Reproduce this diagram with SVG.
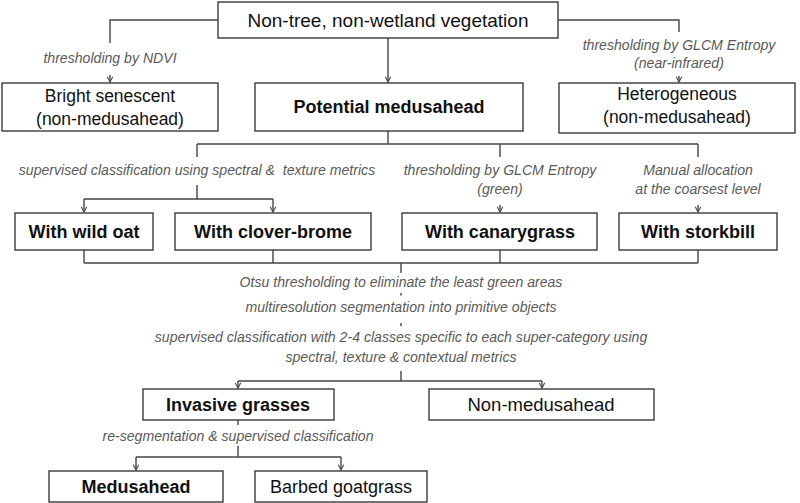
<svg xmlns="http://www.w3.org/2000/svg" width="800" height="503" viewBox="0 0 800 503">
<style>
.box{fill:#fff;stroke:#3a3a3a;stroke-width:1.4}
.t{font-family:"Liberation Sans",Arial,sans-serif;font-size:17.5px;fill:#111;text-anchor:middle}
.b{font-weight:bold;font-size:18px}
.lbl{font-family:"Liberation Sans",Arial,sans-serif;font-size:14.1px;font-style:italic;fill:#5a5a5a;text-anchor:middle;white-space:pre}
.c{fill:none;stroke:#454545;stroke-width:1.4}
.a{fill:none;stroke:#454545;stroke-width:1.4;marker-end:url(#ah)}
</style>
<defs>
<marker id="ah" viewBox="0 0 8 8" refX="7" refY="4" markerWidth="7" markerHeight="7" markerUnits="userSpaceOnUse" orient="auto">
<path d="M1,0.8 L7,4 L1,7.2" fill="none" stroke="#454545" stroke-width="1.2"/>
</marker>
</defs>
<rect width="800" height="503" fill="#fff"/>
<g id="connectors">
<path class="c" d="M218,20 H110 V43"/>
<path class="a" d="M110,75 V82"/>
<path class="a" d="M388,38 V82"/>
<path class="c" d="M558,20 H679 V32"/>
<path class="a" d="M679,76 V82"/>
<path class="c" d="M388,131 V144 M197,144 H698 M197,144 V157 M500,144 V157 M698,144 V157"/>
<path class="c" d="M197,185 V199 M84,199 H273"/>
<path class="a" d="M84,199 V212"/>
<path class="a" d="M273,199 V212"/>
<path class="a" d="M500,205 V212"/>
<path class="a" d="M698,205 V212"/>
<path class="c" d="M84,250 V263 M273,250 V263 M500,250 V263 M698,250 V263 M84,263 H698 M401,263 V273"/>
<path class="c" d="M401,293 V295.5 M401,323 V326"/>
<path class="c" d="M401,371 V381 M238,381 H542"/>
<path class="a" d="M238,381 V388"/>
<path class="a" d="M542,381 V388"/>
<path class="c" d="M238,420 V425 M238,446 V457 M136,457 H341"/>
<path class="a" d="M136,457 V470"/>
<path class="a" d="M341,457 V470"/>
</g>
<g id="labels">
<text class="lbl" x="110" y="63">thresholding by NDVI</text>
<text class="lbl" x="679" y="50">thresholding by GLCM Entropy</text>
<text class="lbl" x="679" y="68">(near-infrared)</text>
<text class="lbl" x="197" y="175">supervised classification using spectral &amp;  texture metrics</text>
<text class="lbl" x="500" y="175">thresholding by GLCM Entropy</text>
<text class="lbl" x="500" y="194">(green)</text>
<text class="lbl" x="698" y="175">Manual allocation</text>
<text class="lbl" x="698" y="194">at the coarsest level</text>
<text class="lbl" x="401" y="287">Otsu thresholding to eliminate the least green areas</text>
<text class="lbl" x="401" y="312">multiresolution segmentation into primitive objects</text>
<text class="lbl" x="401" y="342">supervised classification with 2-4 classes specific to each super-category using</text>
<text class="lbl" x="401" y="362">spectral, texture &amp; contextual metrics</text>
<text class="lbl" x="238" y="441">re-segmentation &amp; supervised classification</text>
</g>
<g id="n-root"><rect class="box" x="218" y="2" width="340" height="36"/><text class="t" x="388" y="27" style="font-size:19px">Non-tree, non-wetland vegetation</text></g>
<g id="n-bright"><rect class="box" x="2" y="83" width="216" height="48"/><text class="t" x="110" y="102">Bright senescent</text><text class="t" x="110" y="125">(non-medusahead)</text></g>
<g id="n-potential"><rect class="box" x="255" y="83" width="268" height="48"/><text class="t b" x="389" y="113">Potential medusahead</text></g>
<g id="n-hetero"><rect class="box" x="559" y="83" width="236" height="50"/><text class="t" x="677" y="100">Heterogeneous</text><text class="t" x="677" y="123">(non-medusahead)</text></g>
<g id="n-wildoat"><rect class="box" x="15" y="213" width="138" height="37"/><text class="t b" x="84" y="238">With wild oat</text></g>
<g id="n-clover"><rect class="box" x="175" y="213" width="196" height="37"/><text class="t b" x="273" y="238">With clover-brome</text></g>
<g id="n-canary"><rect class="box" x="402" y="213" width="195" height="37"/><text class="t b" x="500" y="238">With canarygrass</text></g>
<g id="n-stork"><rect class="box" x="619" y="213" width="158" height="37"/><text class="t b" x="698" y="238">With storkbill</text></g>
<g id="n-invasive"><rect class="box" x="143" y="389" width="191" height="31"/><text class="t b" x="238" y="411">Invasive grasses</text></g>
<g id="n-nonmed"><rect class="box" x="429" y="389" width="225" height="31"/><text class="t" x="541" y="411" style="font-size:18.5px">Non-medusahead</text></g>
<g id="n-medusahead"><rect class="box" x="49" y="471" width="174" height="31"/><text class="t b" x="136" y="493">Medusahead</text></g>
<g id="n-barbed"><rect class="box" x="255" y="471" width="172" height="31"/><text class="t" x="341" y="493" style="font-size:18px">Barbed goatgrass</text></g>
</svg>
